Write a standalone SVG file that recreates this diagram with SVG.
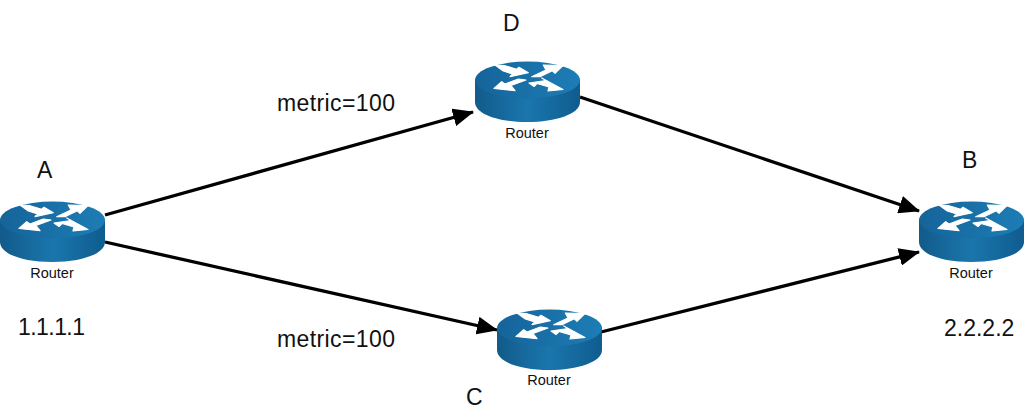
<svg xmlns="http://www.w3.org/2000/svg" width="1024" height="418" viewBox="0 0 1024 418">
<style>
text{font-family:"Liberation Sans",Arial,sans-serif;fill:#111}
.lbl{font-size:23px}
.cap{font-size:14.5px;text-anchor:middle}
.conn{stroke:#000;stroke-width:3.300;fill:none;marker-end:url(#ah)}
.ar{fill:#fff;stroke:#fff;stroke-width:1.200;stroke-linejoin:round}
</style>
<defs>
<marker id="ah" markerUnits="userSpaceOnUse" markerWidth="22" markerHeight="18" refX="20" refY="9" orient="auto"><path d="M0 0L21 9L0 18Z" fill="#000"/></marker>
<linearGradient id="side" x1="0" x2="1" y1="0" y2="0"><stop offset="0" stop-color="#125a8a"/><stop offset=".5" stop-color="#1a76ad"/><stop offset="1" stop-color="#0f5c8e"/></linearGradient>
<linearGradient id="top" x1="0" x2="1" y1="0" y2="0"><stop offset="0" stop-color="#15649a"/><stop offset="1" stop-color="#1d7db5"/></linearGradient>
<g id="router">
<path d="M0 30V52C0 64 23 72 52 72S105 64 105 52V30Z" fill="url(#side)"/>
<ellipse cx="52.500" cy="30" rx="52.500" ry="18.500" fill="url(#top)"/>
<path class="ar" d="M20 15L30 15.700L41.700 19.300L44 17.300L53.300 22.700L35 26.700L37.700 24L28.300 21Z"/>
<path class="ar" d="M56.700 26.700L71 20L68.300 15L87.700 15.700L80 23.300L77.300 20.700L65 26.700Z"/>
<path class="ar" d="M43.300 29L51 30L36 35.500L40 40.700L19 38.500L26.700 31.700L30 34Z"/>
<path class="ar" d="M54 33L71 30.500L66.700 28L88 39.500L73 41L74 37L62 33.500L59 36.500Z"/>
</g>
</defs>
<g id="connectors">
<path class="conn" d="M105 215L473 112"/>
<path class="conn" d="M580 97L919 211"/>
<path class="conn" d="M105 242L497 330"/>
<path class="conn" d="M601 332L919 252"/>
</g>
<g id="node-a"><use href="#router" x="0" y="190"/><text class="cap" x="52" y="278">Router</text><text class="lbl" x="37" y="178">A</text><text class="lbl" x="18" y="335" textLength="67">1.1.1.1</text></g>
<g id="node-d"><use href="#router" x="475" y="50"/><text class="cap" x="527" y="138">Router</text><text class="lbl" x="503" y="31">D</text></g>
<g id="node-c"><use href="#router" x="497" y="298"/><text class="cap" x="549" y="385">Router</text><text class="lbl" x="466" y="405">C</text></g>
<g id="node-b"><use href="#router" x="919" y="190"/><text class="cap" x="971" y="278">Router</text><text class="lbl" x="962" y="168">B</text><text class="lbl" x="944" y="336">2.2.2.2</text></g>
<g id="edge-labels"><text class="lbl" x="277" y="111" textLength="118">metric=100</text><text class="lbl" x="277" y="347" textLength="118">metric=100</text></g>
</svg>
